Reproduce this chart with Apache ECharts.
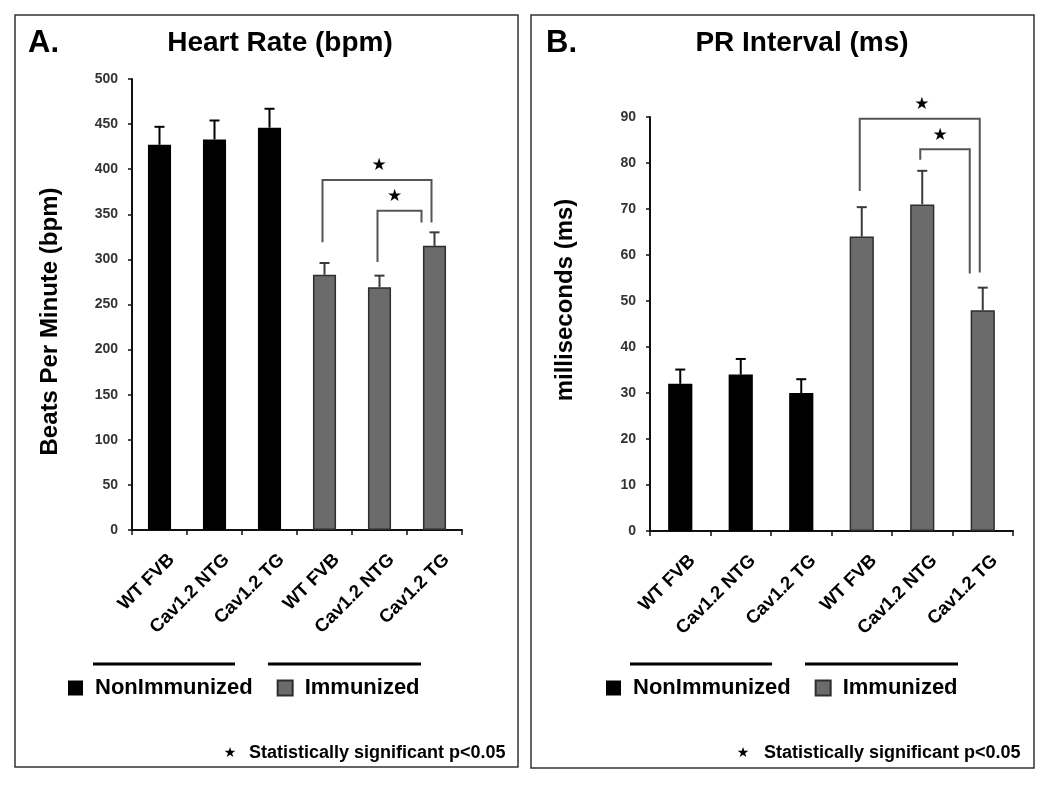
<!DOCTYPE html>
<html>
<head>
<meta charset="utf-8">
<script src="https://cdn.jsdelivr.net/npm/echarts@6/dist/echarts.min.js"></script>
<style>html,body{margin:0;padding:0;background:#fff;}#c{width:1050px;height:791px;}</style>
</head>
<body>
<div id="c"></div>
<script>
// ---- data ----
const categories = ['WT FVB', 'Cav1.2 NTG', 'Cav1.2 TG', 'WT FVB', 'Cav1.2 NTG', 'Cav1.2 TG'];
const groups = ['NonImmunized', 'NonImmunized', 'NonImmunized', 'Immunized', 'Immunized', 'Immunized'];
const groupNames = ['NonImmunized', 'Immunized'];
const heartRate = [427, 433, 446, 283, 269, 315];
const heartRateErr = [20, 21, 21, 13, 13, 15];
const prInterval = [32, 34, 30, 64, 71, 48];
const prIntervalErr = [3.1, 3.4, 3.0, 6.4, 7.3, 4.9];
const hrAxis = { min: 0, max: 500, interval: 50 };
const prAxis = { min: 0, max: 90, interval: 10 };
// brackets: [fromCategory, toCategory, topValue, leftLegEndValue, rightLegEndValue]
const hrBrackets = [[3, 5, 388, 319, 341], [4, 5, 354, 297, 341]];
const prBrackets = [[3, 5, 89.6, 73.9, 56.2], [4, 5, 83, 80.7, 56.0]];
const footnote = 'Statistically significant p<0.05';

const FONT = 'Liberation Sans, Arial, sans-serif';
const BLACK = '#000000';
const GRAY = '#6b6b6b';

function splitByGroup(values, g) {
  return values.map((v, i) => groups[i] === g ? v : '-');
}

function barSeries(values, axisIdx, bw) {
  return groupNames.map(g => ({
    name: g,
    type: 'bar',
    xAxisIndex: axisIdx,
    yAxisIndex: axisIdx,
    stack: 'p' + axisIdx,
    barWidth: bw,
    data: splitByGroup(values, g),
    itemStyle: g === 'Immunized'
      ? { color: GRAY, borderColor: '#2e2e2e', borderWidth: 1.5 }
      : { color: BLACK, borderColor: BLACK, borderWidth: 0 },
    z: 2
  }));
}

function errSeries(values, errs, axisIdx) {
  return {
    type: 'custom',
    xAxisIndex: axisIdx,
    yAxisIndex: axisIdx,
    clip: false,
    z: 3,
    encode: { x: 0, y: 1 },
    data: values.map((v, i) => [i, v, errs[i]]),
    renderItem: function (params, api) {
      const i = api.value(0), v = api.value(1), e = api.value(2);
      const p0 = api.coord([i, v]);
      const p1 = api.coord([i, v + e]);
      const col = groups[i] === 'Immunized' ? '#3a3a3a' : '#000';
      return {
        type: 'group',
        children: [
          { type: 'line', shape: { x1: p0[0], y1: p0[1], x2: p1[0], y2: p1[1] }, style: { stroke: col, lineWidth: 2 } },
          { type: 'line', shape: { x1: p1[0] - 5, y1: p1[1], x2: p1[0] + 5, y2: p1[1] }, style: { stroke: col, lineWidth: 2 } }
        ]
      };
    }
  };
}

function bracketSeries(brackets, axisIdx) {
  return {
    type: 'custom',
    xAxisIndex: axisIdx,
    yAxisIndex: axisIdx,
    clip: false,
    z: 4,
    encode: { x: 0, y: 2 },
    data: brackets,
    renderItem: function (params, api) {
      const a = api.value(0), b = api.value(1), top = api.value(2), le = api.value(3), re = api.value(4);
      const nested = params.dataIndex === 1;
      const pa = api.coord([a, top]);
      const pb = api.coord([b, top]);
      const xA = pa[0] - 2;
      const xB = pb[0] - (nested ? 13 : 3);
      const yT = pa[1];
      const yL = api.coord([a, le])[1];
      const yR = api.coord([b, re])[1];
      return {
        type: 'group',
        children: [
          { type: 'polyline', shape: { points: [[xA, yL], [xA, yT], [xB, yT], [xB, yR]] },
            style: { stroke: '#555', lineWidth: 2, fill: null } },
          { type: 'text', x: (xA + xB) / 2 + (nested ? -5 : 2), y: yT - 14,
            style: { text: '★', fill: '#000', fontSize: 17, align: 'center', verticalAlign: 'middle', fontFamily: 'DejaVu Sans' } }
        ]
      };
    }
  };
}

function xAxisCfg(gridIdx) {
  return {
    type: 'category',
    gridIndex: gridIdx,
    data: categories,
    axisLine: { lineStyle: { color: '#111', width: 2 } },
    axisTick: { show: true, length: 5, interval: 0, alignWithLabel: false, lineStyle: { color: '#111', width: 1.5 } },
    axisLabel: {
      interval: 0, rotate: 45, margin: 15, color: '#000', fontSize: 18.5, fontWeight: 'bold', fontFamily: FONT,
      verticalAlign: 'top', lineHeight: 20, padding: [7, 0, 0, 0]
    }
  };
}

function yAxisCfg(gridIdx, ax, name, gap, pad) {
  return {
    type: 'value',
    gridIndex: gridIdx,
    min: ax.min, max: ax.max, interval: ax.interval,
    name: name,
    nameLocation: 'middle',
    nameGap: gap,
    nameRotate: 90,
    nameTextStyle: { fontSize: 24, fontWeight: 'bold', color: '#000', fontFamily: FONT, padding: pad },
    axisLine: { show: true, lineStyle: { color: '#111', width: 2 } },
    axisTick: { show: true, length: 4, lineStyle: { color: '#111', width: 1.5 } },
    axisLabel: { margin: 14, color: '#333', fontSize: 14, fontWeight: 'bold', fontFamily: FONT },
    splitLine: { show: false }
  };
}

function legendCfg(left) {
  return {
    data: groupNames,
    left: left, top: 677,
    orient: 'horizontal',
    icon: 'rect',
    itemWidth: 15, itemHeight: 15,
    itemGap: 24,
    padding: 0,
    selectedMode: false,
    textStyle: { fontSize: 22, fontWeight: 'bold', color: '#000', fontFamily: FONT, padding: [0, 0, 0, 7] }
  };
}

const chart = echarts.init(document.getElementById('c'), null, { renderer: 'canvas' });
chart.setOption({
  animation: false,
  backgroundColor: '#fff',
  textStyle: { fontFamily: FONT },
  title: [
    { text: 'A.', left: 28, top: 28, padding: 0, textStyle: { fontSize: 31, fontWeight: 'bold', color: '#000', fontFamily: FONT } },
    { text: 'Heart Rate (bpm)', left: 280, top: 29, padding: 0, textAlign: 'center', textStyle: { fontSize: 28, fontWeight: 'bold', color: '#000', fontFamily: FONT } },
    { text: 'B.', left: 546, top: 28, padding: 0, textStyle: { fontSize: 31, fontWeight: 'bold', color: '#000', fontFamily: FONT } },
    { text: 'PR Interval (ms)', left: 802, top: 29, padding: 0, textAlign: 'center', textStyle: { fontSize: 28, fontWeight: 'bold', color: '#000', fontFamily: FONT } }
  ],
  legend: [legendCfg(68), legendCfg(606)],
  grid: [
    { left: 132, top: 79, width: 330, height: 451 },
    { left: 650, top: 117, width: 363, height: 414 }
  ],
  xAxis: [xAxisCfg(0), xAxisCfg(1)],
  yAxis: [
    yAxisCfg(0, hrAxis, 'Beats Per Minute (bpm)', 70, [0, 34, 0, 0]),
    yAxisCfg(1, prAxis, 'milliseconds (ms)', 73, [0, 0, 0, 48])
  ],
  series: [
    ...barSeries(heartRate, 0, '42%'),
    errSeries(heartRate, heartRateErr, 0),
    bracketSeries(hrBrackets, 0),
    ...barSeries(prInterval, 1, '40%'),
    errSeries(prInterval, prIntervalErr, 1),
    bracketSeries(prBrackets, 1)
  ],
  graphic: [
    { type: 'rect', shape: { x: 15, y: 15, width: 503, height: 752 }, style: { fill: null, stroke: '#333', lineWidth: 1.5 }, silent: true },
    { type: 'rect', shape: { x: 531, y: 15, width: 503, height: 753 }, style: { fill: null, stroke: '#333', lineWidth: 1.5 }, silent: true },
    { type: 'line', shape: { x1: 93, y1: 664, x2: 235, y2: 664 }, style: { stroke: '#000', lineWidth: 3 } },
    { type: 'line', shape: { x1: 268, y1: 664, x2: 421, y2: 664 }, style: { stroke: '#000', lineWidth: 3 } },
    { type: 'line', shape: { x1: 630, y1: 664, x2: 772, y2: 664 }, style: { stroke: '#000', lineWidth: 3 } },
    { type: 'line', shape: { x1: 805, y1: 664, x2: 958, y2: 664 }, style: { stroke: '#000', lineWidth: 3 } },
    { type: 'text', x: 230, y: 753, style: { text: '★', fill: '#000', fontSize: 14, align: 'center', verticalAlign: 'middle', fontFamily: 'DejaVu Sans' } },
    { type: 'text', x: 249, y: 753, style: { text: footnote, fill: '#000', fontSize: 18, fontWeight: 'bold', align: 'left', verticalAlign: 'middle', fontFamily: FONT } },
    { type: 'text', x: 743, y: 753, style: { text: '★', fill: '#000', fontSize: 14, align: 'center', verticalAlign: 'middle', fontFamily: 'DejaVu Sans' } },
    { type: 'text', x: 764, y: 753, style: { text: footnote, fill: '#000', fontSize: 18, fontWeight: 'bold', align: 'left', verticalAlign: 'middle', fontFamily: FONT } }
  ]
});
</script>
</body>
</html>
